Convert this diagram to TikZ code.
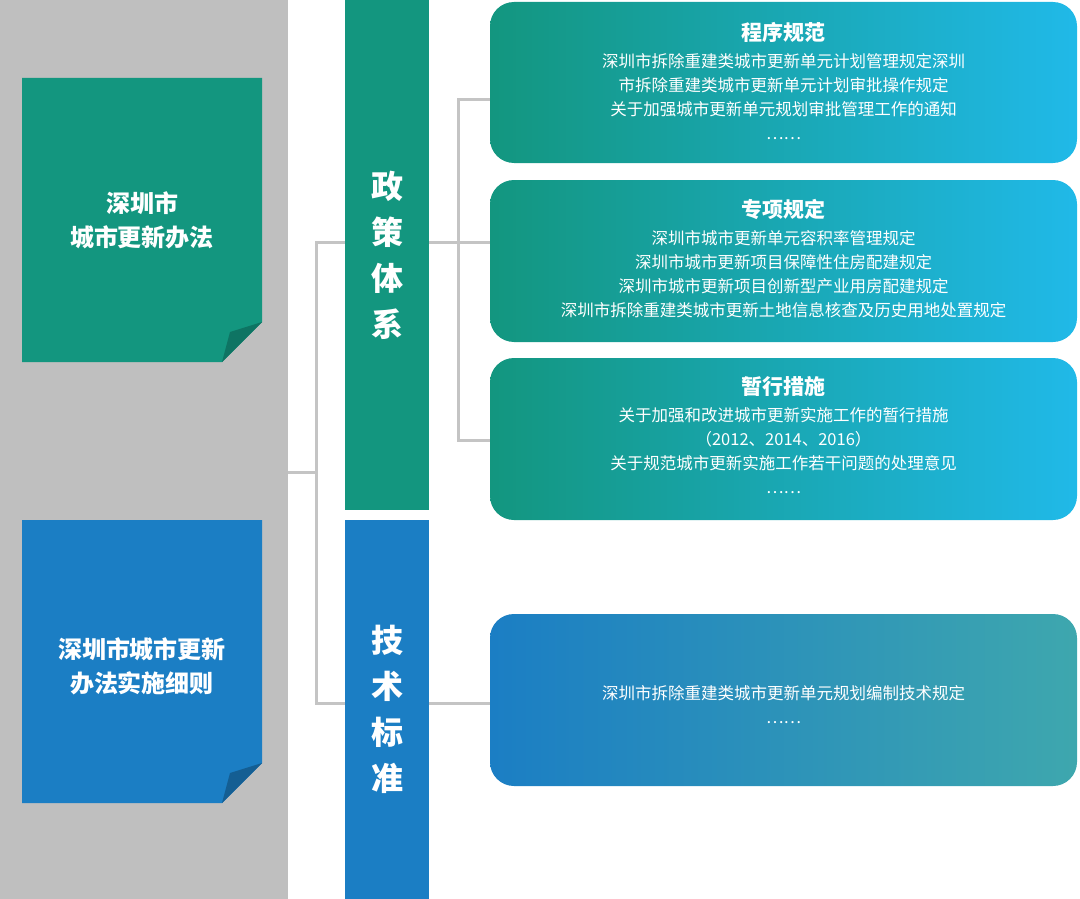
\documentclass[tikz,border=0pt]{standalone}
\usepackage{fontspec}
\setmainfont{Noto Sans CJK SC}
\usetikzlibrary{positioning}
\definecolor{bgGray}{HTML}{BFBFBF}
\definecolor{lineGray}{HTML}{C4C4C4}
\definecolor{tealA}{HTML}{13967F}
\definecolor{tealB}{HTML}{0E7463}
\definecolor{blueA}{HTML}{1B7EC4}
\definecolor{blueB}{HTML}{145E93}
\definecolor{skyA}{HTML}{20B9E8}
\definecolor{aquaA}{HTML}{3EA7AE}
\tikzset{
  conn/.style={draw=lineGray,line width=3pt},
  column/.style={minimum width=84pt,inner sep=0pt,text=white,font=\fontsize{32}{46}\selectfont\bfseries,align=center},
  panel/.style={rounded corners=24pt,minimum width=587pt,inner sep=0pt},
  ptitle/.style={text=white,font=\fontsize{21}{26}\selectfont\bfseries},
  pbody/.style={text=white,font=\fontsize{16.5}{24}\selectfont,align=center},
  cardtext/.style={text=white,font=\fontsize{24}{34}\selectfont\bfseries,align=center}
}
\begin{document}
\begin{tikzpicture}[x=1pt,y=-1pt]
\useasboundingbox (0,0) rectangle (1080,899);
\node[fill=bgGray,minimum width=288pt,minimum height=899pt,inner sep=0pt] (bg) at (144,449.5) {};
% cards with folded corner
\fill[tealA] (22,78) -- (262,78) -- (262,322) -- (222,362) -- (22,362) -- cycle;
\fill[tealB] (262,322) -- (222,362) -- (230,332) -- cycle;
\node[cardtext] (card1) at (142,220) {深圳市\\城市更新办法};
\fill[blueA] (22,520) -- (262,520) -- (262,763) -- (222,803) -- (22,803) -- cycle;
\fill[blueB] (262,763) -- (222,803) -- (230,773) -- cycle;
\node[cardtext] (card2) at (142,666) {深圳市城市更新\\办法实施细则};
% columns
\node[column,fill=tealA,minimum height=510pt] (zc) at (387,255) {政\\策\\体\\系};
\node[column,fill=blueA,minimum height=379pt] (js) at (387,709.5) {技\\术\\标\\准};
% panels
\node[panel,left color=tealA,right color=skyA,minimum height=161pt] (p1) at (783.5,82.5) {};
\node[panel,left color=tealA,right color=skyA,minimum height=162pt] (p2) at (783.5,261) {};
\node[panel,left color=tealA,right color=skyA,minimum height=162pt] (p3) at (783.5,439) {};
\node[panel,left color=blueA,right color=aquaA,minimum height=172pt] (p4) at (783.5,700) {};
\node[ptitle] (t1) at (783.5,32) {程序规范};
\node[pbody,below=4pt of t1] {深圳市拆除重建类城市更新单元计划管理规定深圳\\市拆除重建类城市更新单元计划审批操作规定\\关于加强城市更新单元规划审批管理工作的通知\\……};
\node[ptitle] (t2) at (783.5,209) {专项规定};
\node[pbody,below=4pt of t2] {深圳市城市更新单元容积率管理规定\\深圳市城市更新项目保障性住房配建规定\\深圳市城市更新项目创新型产业用房配建规定\\深圳市拆除重建类城市更新土地信息核查及历史用地处置规定};
\node[ptitle] (t3) at (783.5,386) {暂行措施};
\node[pbody,below=4pt of t3] {关于加强和改进城市更新实施工作的暂行措施\\（2012、2014、2016）\\关于规范城市更新实施工作若干问题的处理意见\\……};
\node[pbody] (t4) at (783.5,705) {深圳市拆除重建类城市更新单元规划编制技术规定\\……};
% connectors
\coordinate (j0) at (bg.east |- 0,472);
\coordinate (j1) at (316,472);
\coordinate (ja) at (zc.west |- 0,242);
\coordinate (jb) at (js.west |- 0,703);
\draw[conn] (j0) -- (j1);
\draw[conn] (ja) -| (j1) |- (jb);
\coordinate (k0) at (zc.east |- 0,242);
\coordinate (k1) at (458,242);
\draw[conn] (k0) -- (k1);
\draw[conn] (p1.west |- 0,100) -| (k1) |- (p3.west |- 0,440);
\draw[conn] (k1) -- (p2.west |- 0,242);
\draw[conn] (js.east |- 0,703) -- (p4.west |- 0,703);
\end{tikzpicture}
\end{document}
